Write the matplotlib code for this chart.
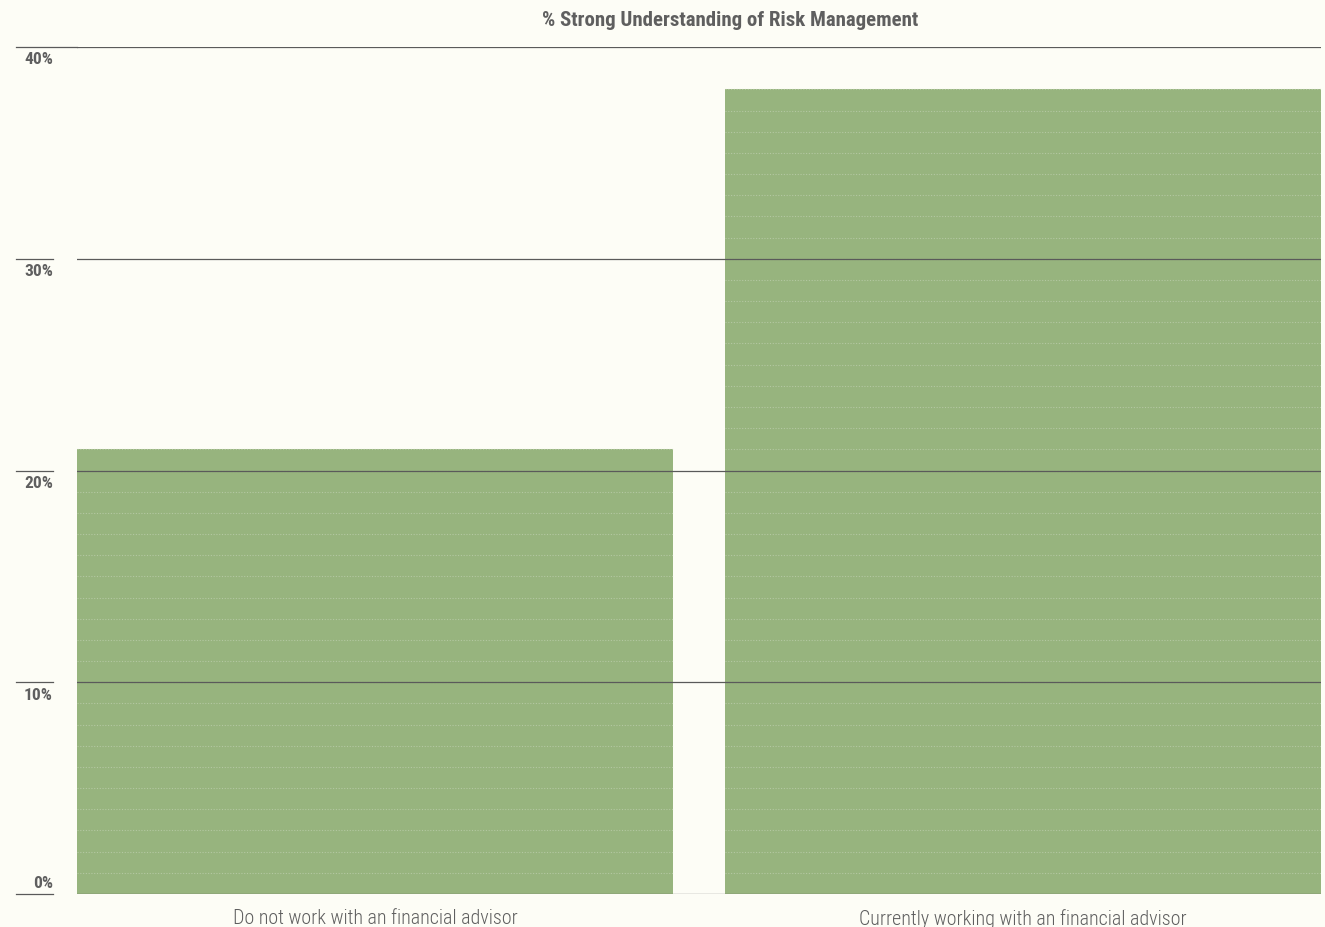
import matplotlib.pyplot as plt
import matplotlib.transforms as mtransforms
from matplotlib import font_manager

categories = ["Do not work with an financial advisor", "Currently working with an financial advisor"]
values = [21, 38]
yticks = [0, 10, 20, 30, 40]
title = "% Strong Understanding of Risk Management"

BG = "#fdfdf6"
BAR = "#97b47e"
GRID = "#5a5a5a"
TEXT = "#5f5f5f"

names = {f.name for f in font_manager.fontManager.ttflist}
cond = next((n for n in ["Roboto Condensed", "Liberation Sans Narrow", "Roboto"] if n in names), "DejaVu Sans")

fig = plt.figure(figsize=(13.25, 9.28), dpi=100, facecolor=BG)
ax = fig.add_axes([77 / 1325, 1 - 895 / 928, 1244 / 1325, 847 / 928])
ax.set_facecolor(BG)

width = 0.921
x = list(range(len(categories)))
ax.bar(x, values, width=width, color=BAR, zorder=1)

# faint dotted lines inside the bars, one per percent
for xi, v in zip(x, values):
    ys = [k for k in range(1, int(v) + 1)]
    ax.hlines(ys, xi - width / 2, xi + width / 2, colors="#b4c8a2",
              linestyles=(0, (1, 1.5)), linewidth=0.8, zorder=2)

ax.set_xlim(-width / 2, 1 + width / 2)
ax.set_ylim(0, 40)

for t in yticks:
    ax.axhline(t, color=GRID, linewidth=0.9, zorder=3)

# tick stubs and labels to the left
trans = mtransforms.blended_transform_factory(ax.transAxes, ax.transData)
x0 = (16 - 77) / 1244
x1 = (53 - 77) / 1244
for t in yticks:
    if t == 40:
        ax.plot([x0, 0], [t, t], transform=trans, color=GRID, lw=0.9, clip_on=False)
    else:
        ax.plot([x0, x1], [t, t], transform=trans, color=GRID, lw=0.9, clip_on=False)
    off = -12 if t > 0 else 11
    ax.annotate(f"{t}%", xy=(x1, t), xycoords=trans, xytext=(0, off), textcoords="offset pixels",
                ha="right", va="center", fontsize=12.5, fontweight="bold", color=TEXT,
                family=cond, annotation_clip=False)

for xi, c in zip(x, categories):
    ax.annotate(c, xy=(xi, 0), xycoords="data", xytext=(0, -24), textcoords="offset pixels",
                ha="center", va="center", fontsize=14.4, color=TEXT, family=cond,
                fontweight="light", annotation_clip=False)

fig.text(730 / 1325, 1 - 20 / 928, title, ha="center", va="center", fontsize=15,
         fontweight="bold", color=TEXT, family=cond)

ax.set_xticks([])
ax.set_yticks([])
for s in ax.spines.values():
    s.set_visible(False)

fig.savefig("out.png", dpi=100, facecolor=BG)
